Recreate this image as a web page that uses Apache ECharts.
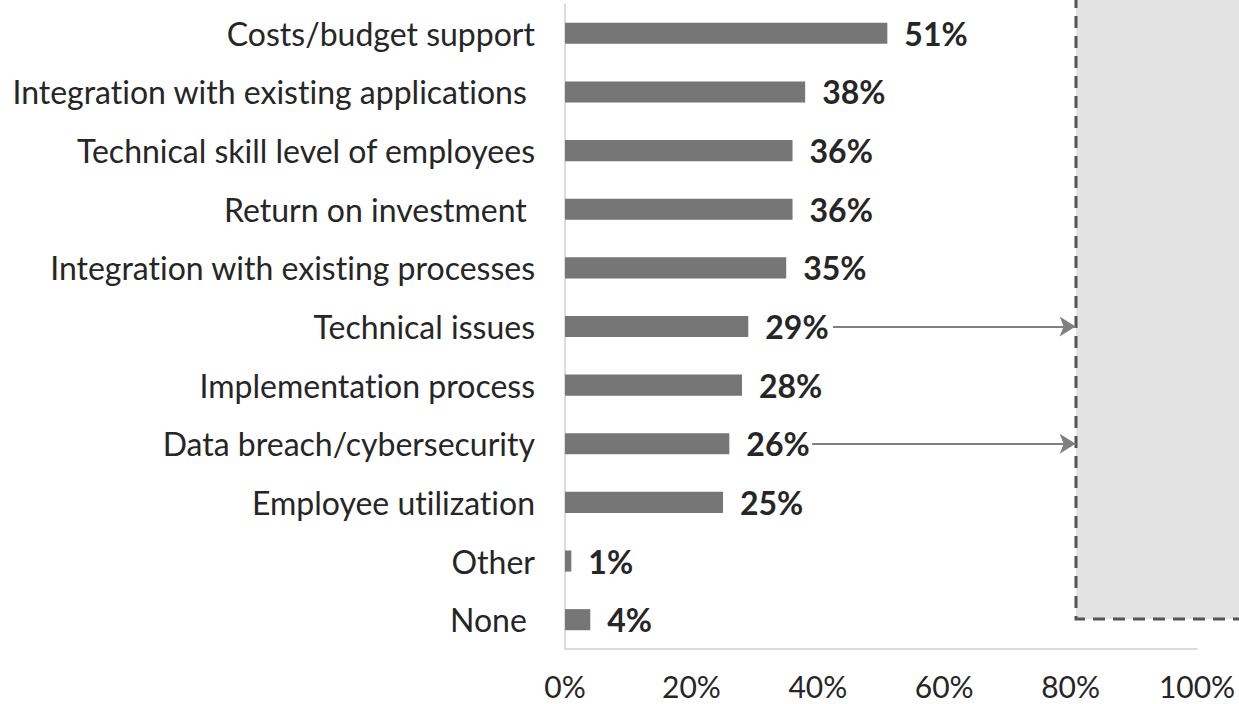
<!DOCTYPE html>
<html><head><meta charset="utf-8">
<script src="https://cdn.jsdelivr.net/npm/echarts@6/dist/echarts.min.js"></script>
<style>html,body{margin:0;padding:0;background:#fff}#c{width:1239px;height:704px}
#c text{font-variant-ligatures:none;font-feature-settings:"liga" 0,"clig" 0}</style>
</head><body><div id="c"></div>
<script>
const categories = ["Costs/budget support","Integration with existing applications ","Technical skill level of employees","Return on investment ","Integration with existing processes","Technical issues","Implementation process","Data breach/cybersecurity","Employee utilization","Other","None "];
const values = [51,38,36,36,35,29,28,26,25,1,4];
const xTicks = [0,20,40,60,80,100];
const arrowRows = ["Technical issues","Data breach/cybersecurity"];
const arrowStarts = [42.4,39.1];
const arrowEnd = 80.8;

const chart = echarts.init(document.getElementById('c'), null, {renderer:'svg'});
chart.setOption({
  animation:false,
  grid:{left:565,right:42,top:4,bottom:55,containLabel:false},
  xAxis:{type:'value',min:xTicks[0],max:xTicks[xTicks.length-1],interval:xTicks[1]-xTicks[0],
    axisLine:{show:true,lineStyle:{color:'#d0d0d0',width:1.5}},
    axisTick:{show:false},splitLine:{show:false},
    axisLabel:{formatter:v=>v+'%',color:'#262626',fontFamily:'Lato',fontSize:30,lineHeight:26,margin:24}},
  yAxis:{type:'category',data:categories,inverse:true,
    axisLine:{show:true,lineStyle:{color:'#d0d0d0',width:1.5}},
    axisTick:{show:false},
    axisLabel:{color:'#262626',fontFamily:'Lato',fontSize:32,margin:30}},
  series:[{type:'bar',data:values,barWidth:'36%',
    itemStyle:{color:'#767676'},
    label:{show:true,position:'right',distance:17,formatter:p=>p.value+'%',
      color:'#262626',fontFamily:'Lato',fontWeight:'bold',fontSize:32},
    markLine:{silent:true,symbol:['none','arrow'],symbolSize:[15,16],
      lineStyle:{color:'#808080',width:2,type:'solid'},label:{show:false},
      data:arrowRows.map((r,i)=>[{coord:[arrowStarts[i],r]},{coord:[arrowEnd,r]}])}
  }],
  graphic:[{type:'rect',z:-1,shape:{x:1076,y:-10,width:200,height:629},
    style:{fill:'#e3e3e3',stroke:'#555555',lineWidth:3,lineDash:[12,8]}}]
});
</script></body></html>
